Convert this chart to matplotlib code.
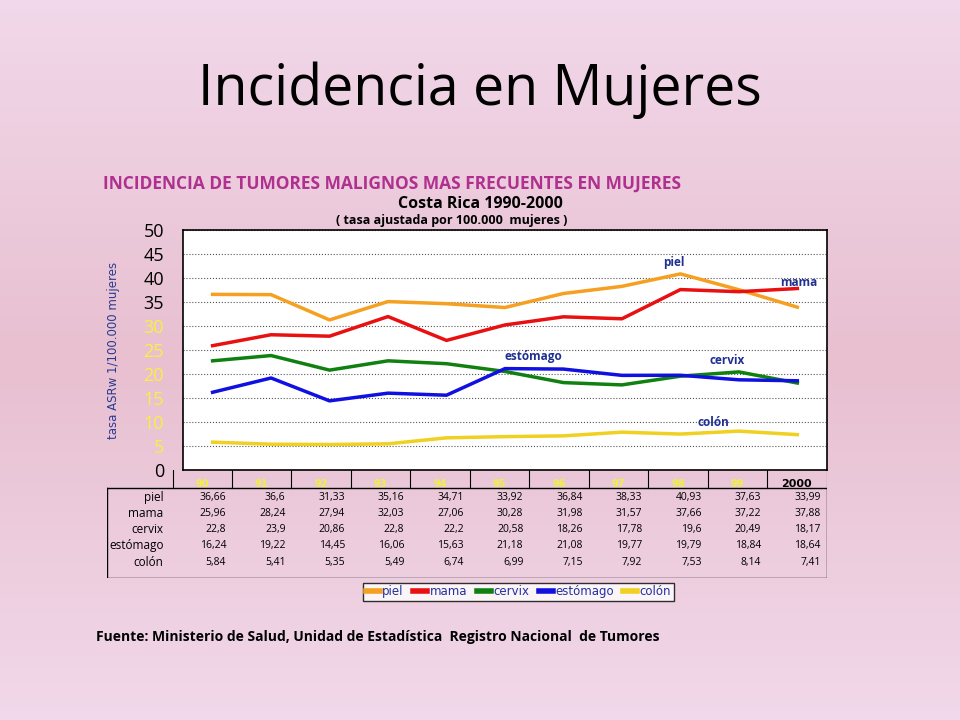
import numpy as np
import matplotlib.pyplot as plt
from matplotlib.colors import LinearSegmentedColormap

years = ['90', '91', '92', '93', '94', '95', '96', '97', '98', '99', '2000']
series = ['piel', 'mama', 'cervix', 'estómago', 'colón']
piel = [36.66, 36.6, 31.33, 35.16, 34.71, 33.92, 36.84, 38.33, 40.93, 37.63, 33.99]
mama = [25.96, 28.24, 27.94, 32.03, 27.06, 30.28, 31.98, 31.57, 37.66, 37.22, 37.88]
cervix = [22.8, 23.9, 20.86, 22.8, 22.2, 20.58, 18.26, 17.78, 19.6, 20.49, 18.17]
estomago = [16.24, 19.22, 14.45, 16.06, 15.63, 21.18, 21.08, 19.77, 19.79, 18.84, 18.64]
colon = [5.84, 5.41, 5.35, 5.49, 6.74, 6.99, 7.15, 7.92, 7.53, 8.14, 7.41]
values = [piel, mama, cervix, estomago, colon]
colors = ['#f5a020', '#e81010', '#108010', '#1010e0', '#f0d020']

fig = plt.figure(figsize=(9.6, 7.2), dpi=100)

# background gradient
bg = fig.add_axes([0, 0, 1, 1], zorder=-10)
grad = np.concatenate([np.linspace(0, 1, 50), np.linspace(1, 0, 50)])[:, None]
cm = LinearSegmentedColormap.from_list('bg', ['#f1d8ea', '#e8c0d0'])
bg.imshow(grad, cmap=cm, aspect='auto', extent=[0, 1, 0, 1])
bg.axis('off')

fig.text(0.5, 0.875, 'Incidencia en Mujeres', ha='center', va='center', fontsize=40, family='Open Sans')
fig.text(0.107, 0.745, 'INCIDENCIA DE TUMORES MALIGNOS MAS FRECUENTES EN MUJERES',
         color='#b03090', fontsize=12.5, fontweight='bold', family='Open Sans', va='center')
fig.text(0.5, 0.717, 'Costa Rica 1990-2000', ha='center', fontsize=11.5, fontweight='bold',
         family='Open Sans', va='center')
fig.text(0.47, 0.694, '( tasa ajustada por 100.000  mujeres )', ha='center', fontsize=9,
         fontweight='bold', family='Open Sans', va='center')

ax = fig.add_axes([0.191, 0.347, 0.670, 0.333])
ax.set_facecolor('white')
x = np.arange(len(years))
for name, v, c in zip(series, values, colors):
    ax.plot(x, v, color=c, lw=2.5, label=name)
ax.set_xlim(-0.5, 10.5)
ax.set_ylim(0, 50)
ax.set_yticks(range(0, 51, 5))
ax.set_yticklabels([str(t) for t in range(0, 51, 5)], fontsize=13, family='Open Sans')
for t, lab in zip(range(0, 51, 5), ax.get_yticklabels()):
    if 5 <= t <= 30:
        lab.set_color('#f8f040')
ax.tick_params(axis='y', length=0, pad=14)
ax.set_xticks([])
ax.grid(axis='y', color='#555555', ls=':', lw=0.8)
ax.text(-1.7, 25, 'tasa ASRw 1/100.000 mujeres', rotation=90, color='#2a3a90', fontsize=8.5,
        va='center', ha='center', family='Liberation Sans Narrow', clip_on=False)
for s in ax.spines.values():
    s.set_linewidth(1.2)

lab_kw = dict(fontsize=8.5, color='#203090', family='Open Sans', fontweight='bold')
ax.text(7.7, 42.5, 'piel', **lab_kw)
ax.text(9.7, 38.5, 'mama', **lab_kw)
ax.text(5.0, 23.0, 'estómago', **lab_kw)
ax.text(8.5, 22.2, 'cervix', **lab_kw)
ax.text(8.3, 9.3, 'colón', **lab_kw)

# data table
tb = fig.add_axes([0.111, 0.197, 0.750, 0.150], facecolor='none')
tb.set_xlim(-1.61, 10.5)
tb.set_ylim(5.5, -1.2)
tb.axis('off')
for i in range(12):
    tb.plot([i - 0.5, i - 0.5], [-1.2, -0.1], color='black', lw=0.8)
tb.plot([-1.61, 10.5, 10.5, -1.61, -1.61], [-0.1, -0.1, 5.5, 5.5, -0.1], color='black', lw=1)
for i, y in enumerate(years):
    if y == '2000':
        tb.text(i, -0.35, y, ha='center', va='center', fontsize=8, fontweight='bold', color='black')
    else:
        tb.text(i, -0.35, y, ha='center', va='center', fontsize=7, fontweight='bold', color='#f0f040')
for r, (name, v) in enumerate(zip(series, values)):
    tb.text(-0.65, 0.5 + r * 1.0, name, ha='right', va='center', fontsize=8.5, family='Open Sans')
    for i, val in enumerate(v):
        tb.text(i + 0.4, 0.5 + r * 1.0, f'{val:g}'.replace('.', ','), ha='right', va='center',
                fontsize=7.5, family='Open Sans')

leg = fig.legend(*ax.get_legend_handles_labels(), loc='center', bbox_to_anchor=(0.54, 0.178),
                 ncol=5, fontsize=8.5, handlelength=1.2, handletextpad=0.2, columnspacing=0.8,
                 frameon=True, fancybox=False, edgecolor='black', borderpad=0.2)
for t in leg.get_texts():
    t.set_color('#2030a0')
for h in leg.legend_handles:
    h.set_linewidth(4)

fig.text(0.1, 0.115, 'Fuente: Ministerio de Salud, Unidad de Estadística  Registro Nacional  de Tumores',
         fontsize=10, fontweight='bold', family='Open Sans', va='center')

fig.savefig('out.png', dpi=100)
